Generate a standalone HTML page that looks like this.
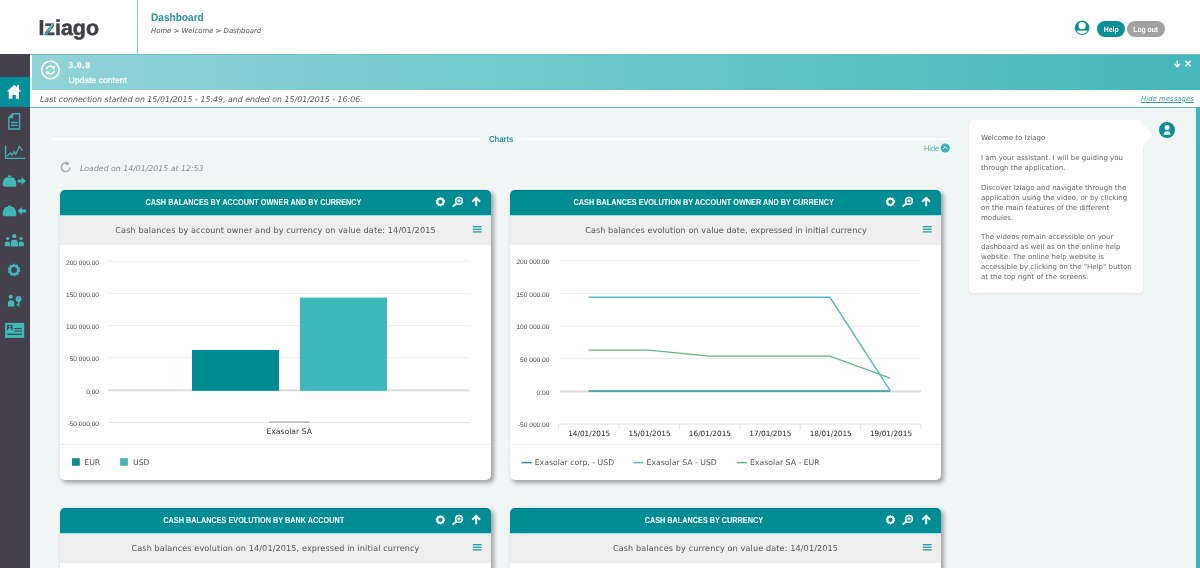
<!DOCTYPE html>
<html lang="en">
<head>
<meta charset="utf-8">
<title>Iziago - Dashboard</title>
<style>
*{box-sizing:border-box;margin:0;padding:0}
html,body{width:1200px;height:568px;overflow:hidden;background:#f0f5f6}
body{position:relative;text-rendering:geometricPrecision;font-family:"DejaVu Sans","Liberation Sans",sans-serif;font-size:7.5px;color:#555;-webkit-font-smoothing:antialiased}
.abs{position:absolute}
.t{position:absolute;white-space:nowrap;line-height:1}
.cond{font-family:"Liberation Sans",sans-serif;font-weight:bold;transform-origin:0 50%}
/* header */
#header{position:absolute;left:0;top:0;width:1200px;height:54px;background:#fff}
#hsep{position:absolute;left:137px;top:0;width:1px;height:54px;background:#9cc6ca}
#hline{position:absolute;left:30px;top:53.6px;width:1170px;height:1px;background:#6fbfc4;z-index:3}
/* sidebar */
#side{position:absolute;left:0;top:54px;width:30px;height:514px;background:#45414c}
#side .act{position:absolute;left:0;top:23px;width:30px;height:30px;background:#00909a}
/* banner */
#gap{position:absolute;left:30px;top:54px;width:2px;height:54px;background:#fff}
#banner{position:absolute;left:32px;top:54px;width:1168px;height:36.3px;background:linear-gradient(90deg,#92d3d7 0%,#6ec8cc 45%,#45b7bb 100%)}
#conn{position:absolute;left:30px;top:90px;width:1170px;height:17px;background:#fff}
#connline{position:absolute;left:30px;top:107px;width:1170px;height:1px;background:#6fc0c5}
#rstripe{position:absolute;left:1196.3px;top:107.4px;width:4px;height:461px;background:#3cb5b8}
/* fieldset */
#fs{position:absolute;left:51px;top:138.3px;width:900px;height:1.3px;background:#f9fcfc}
#fs2{position:absolute;left:51px;top:136.2px;width:900px;height:1px;background:#edf2f3}
/* cards */
.card{position:absolute;width:431px;height:290px;background:#fff;border-radius:5px;box-shadow:2.5px 2.5px 4px rgba(0,0,0,.33)}
.card .hd{position:absolute;left:0;top:0;width:100%;height:26px;background:#028c94;border-radius:5px 5px 0 0;border-bottom:1px solid #9ae4e6;box-shadow:inset 0 1px 0 rgba(0,0,0,.14)}
.card .sub{position:absolute;left:0;top:25.9px;width:100%;height:28.7px;background:#eeeeee}
.card .sepl{position:absolute;left:0;top:254px;width:100%;height:4px;border-top:1px solid #f0f0f0;border-bottom:1px solid #fafafa}
.card .ttl{position:absolute;left:-6.5px;top:-.2px;width:400px;height:25px;text-align:center;color:#fff;font-family:"Liberation Sans",sans-serif;font-weight:bold;font-size:8.6px;line-height:25px;white-space:nowrap}
.card .ttl span{display:inline-block;transform:scaleX(.847);transform-origin:50% 50%}
.card .st{position:absolute;left:0;top:26.3px;width:100%;height:29px;text-align:center;color:#555;font-size:8.1px;letter-spacing:.12px;line-height:29px;white-space:nowrap}
.card svg.ic{position:absolute;left:0;top:0}
svg{overflow:visible}
svg text{font-family:"DejaVu Sans","Liberation Sans",sans-serif;text-rendering:geometricPrecision}
</style>
</head>
<body>
<div id="header"></div>
<div id="hsep"></div>
<div id="hline"></div>
<div id="side"><div class="act"></div>
<svg class="abs" style="left:0;top:0" width="30" height="514" viewBox="0 54 30 514">
  <!-- home -->
  <path d="M14.3 84.7 L21.3 91.5 L19 91.5 L19 98.7 L15.85 98.7 L15.85 95 L12.4 95 L12.4 98.7 L8.7 98.7 L8.7 91.5 L6.9 91.5 Z" fill="#fff"/>
  <rect x="17" y="85.1" width="2" height="5" fill="#fff"/>
  <!-- document -->
  <path d="M12.6 113.8 H19.6 V129 H8.8 V117.6 Z" fill="none" stroke="#3fb0b4" stroke-width="1.4"/>
  <path d="M13.2 113.4 V118.2 H8.4 Z" fill="#3fb0b4"/>
  <path d="M11 122.5 H17.6 M11 125.4 H17.6" stroke="#3fb0b4" stroke-width="1.3" fill="none"/>
  <!-- chart -->
  <path d="M5.6 145.6 V158.3 H25.2" fill="none" stroke="#3fb0b4" stroke-width="1.3"/>
  <path d="M6.5 156.6 L10.6 152.9 L12.1 155 L14.3 151.8 L15.8 154.5 L19.5 146.2 L22.7 150.8" fill="none" stroke="#3fb0b4" stroke-width="1.3"/>
  <!-- purse out -->
  <g fill="#3fb8b8">
    <path d="M5.8 177.5 H13.2 Q14.8 177.9 15.8 181.6 Q17 186 15.6 186.5 Q15 186.8 13.6 186.8 H5.4 Q2.2 186.8 2.7 184 Q3.4 178.6 5.8 177.5 Z"/>
    <rect x="7.8" y="175.6" width="3.6" height="1.6" rx=".6"/>
    <path d="M17.6 179.4 H21.6 V177 L26 181 L21.6 185 V182.6 H17.6 Z"/>
    <path d="M5.8 206.9 H13.2 Q14.8 207.3 15.8 211 Q17 215.4 15.6 215.9 Q15 216.2 13.6 216.2 H5.4 Q2.2 216.2 2.7 213.4 Q3.4 208 5.8 206.9 Z"/>
    <rect x="7.8" y="205.4" width="3.6" height="1.6" rx=".6"/>
    <path d="M26.2 209.4 H22 V207 L17.4 211 L22 215 V212.6 H26.2 Z"/>
    <!-- people -->
    <circle cx="14.3" cy="236.2" r="2.1"/>
    <path d="M10.7 246.6 V243 Q10.7 239.8 14.3 239.8 Q17.9 239.8 17.9 243 V246.6 Z"/>
    <circle cx="7.6" cy="238.5" r="1.6"/>
    <path d="M4.8 246.2 V243.8 Q4.8 241.4 7.6 241.4 Q10 241.4 10 243.8 V246.2 Z"/>
    <circle cx="21.1" cy="238.5" r="1.6"/>
    <path d="M18.6 246.2 V243.8 Q18.6 241.4 21.1 241.4 Q23.9 241.4 23.9 243.8 V246.2 Z"/>
    <!-- person key -->
    <circle cx="10.7" cy="296.8" r="2"/>
    <path d="M7.9 306.4 V303 Q7.9 300.2 11 300.2 Q14.3 300.2 14.3 303 V306.4 Z"/>
    <circle cx="18.6" cy="298.9" r="2.9"/>
    <rect x="17.9" y="300" width="1.5" height="6.6"/>
    <rect x="16.6" y="304" width="1.6" height="1.2"/>
    <!-- id card -->
    <rect x="5.1" y="322.9" width="19.1" height="15"/>
  </g>
  <circle cx="18.8" cy="298" r=".6" fill="#45414c"/>
  <!-- gear -->
  <circle cx="14" cy="270" r="4.2" fill="none" stroke="#3fb8b8" stroke-width="2.6"/>
  <circle cx="14" cy="270" r="5.7" fill="none" stroke="#3fb8b8" stroke-width="1.2" stroke-dasharray="1.8 1.78"/>
  <g fill="#3a4a55">
    <rect x="7.1" y="324.8" width="5.6" height="5.3"/>
    <rect x="14.3" y="328" width="7.6" height="1.1"/>
    <rect x="14.3" y="330.5" width="7.6" height="1.1"/>
    <rect x="7.4" y="333.7" width="14.5" height="1.2"/>
  </g>
  <circle cx="9.9" cy="326.5" r="1.1" fill="#3fbdb8"/>
  <path d="M8 330.1 Q8 328 9.9 328 Q11.8 328 11.8 330.1 Z" fill="#3fbdb8"/>
</svg>
</div>
<div id="gap"></div>
<div id="banner"></div>
<div id="conn"></div>
<div id="connline"></div>
<div id="rstripe"></div>
<div id="fs2"></div><div id="fs"></div>

<!-- LOGO -->
<svg class="abs" style="left:0;top:0" width="137" height="54" viewBox="0 0 137 54">
  <text x="38.4" y="34.8" font-family="Liberation Sans, sans-serif" font-weight="bold" font-size="21.4" fill="#414047" stroke="#414047" stroke-width=".5" style="font-family:'Liberation Sans',sans-serif" textLength="60.6" lengthAdjust="spacingAndGlyphs">Iziago</text>
  <defs><linearGradient id="zg" x1="0" y1="1" x2="0" y2="0"><stop offset="0" stop-color="#1f9c9e"/><stop offset="1" stop-color="#6fd0cb"/></linearGradient></defs>
  <path d="M43.6 35 L47.4 35 L53.8 23.8 L51.8 23.8 Z" fill="url(#zg)"/>
</svg>
<!-- HEADER TEXT -->
<div class="t cond" id="ptitle" style="left:151px;top:12.8px;font-size:11px;color:#2990a2;transform:scaleX(.918);transform-origin:0 50%">Dashboard</div>
<div class="t" id="crumb" style="left:151px;top:28.1px;font-size:6.9px;font-style:italic;color:#4d4d4d">Home &gt; Welcome &gt; Dashboard</div>
<svg class="abs" style="left:1074px;top:20px" width="16" height="16" viewBox="0 0 16 16">
  <defs><clipPath id="uc"><circle cx="8.1" cy="7.8" r="6.2"/></clipPath></defs>
  <circle cx="8.1" cy="7.8" r="7.3" fill="#0b8e96"/>
  <circle cx="8.1" cy="5.7" r="3.6" fill="#fff"/>
  <g clip-path="url(#uc)"><rect x="0" y="10.6" width="16" height="6" fill="#fff"/></g>
</svg>
<div class="abs btn" style="left:1097px;top:21.3px;width:28.4px;height:15.6px;background:#0a8f97;border-radius:8px"></div>
<div class="t cond" style="left:1097px;top:22px;width:28.4px;height:15.6px;line-height:15.6px;text-align:center;font-size:7.8px;color:#fff;transform:scaleX(.87);transform-origin:50% 50%">Help</div>
<div class="abs btn" style="left:1127.2px;top:21.3px;width:37.4px;height:15.6px;background:#a2a2a2;border-radius:8px"></div>
<div class="t cond" style="left:1127.2px;top:22px;width:37.4px;height:15.6px;line-height:15.6px;text-align:center;font-size:7.8px;color:#fff;transform:scaleX(.87);transform-origin:50% 50%">Log out</div>

<!-- BANNER -->
<svg class="abs" style="left:40px;top:60px" width="22" height="22" viewBox="0 0 22 22">
  <circle cx="10.4" cy="10" r="8.7" fill="none" stroke="#fff" stroke-width="1.5"/>
  <path d="M6.5 9.4 A4 4 0 0 1 13.4 7.4" fill="none" stroke="#fff" stroke-width="1.5"/>
  <path d="M14.3 10.6 A4 4 0 0 1 7.4 12.6" fill="none" stroke="#fff" stroke-width="1.5"/>
  <path d="M14.9 5.2 L14.6 8.9 L11.2 8.2 Z" fill="#fff"/>
  <path d="M5.9 14.8 L6.2 11.1 L9.6 11.8 Z" fill="#fff"/>
</svg>
<div class="t" style="left:68.6px;top:61.4px;font-family:'Liberation Serif',serif;font-weight:bold;font-size:9.2px;color:#f4fbfb;letter-spacing:.75px;-webkit-text-stroke:.25px #f4fbfb">3.0.8</div>
<div class="t" style="left:68.6px;top:76.2px;font-family:'Liberation Sans',sans-serif;font-size:8.6px;color:#f4fbfb;-webkit-text-stroke:.3px #f4fbfb">Update content</div>
<svg class="abs" style="left:1172px;top:58px" width="22" height="12" viewBox="0 0 22 12">
  <path d="M5.2 2.6 V8.4 M2.4 5.8 L5.2 8.8 L8 5.8" fill="none" stroke="#fff" stroke-width="1.3"/>
  <path d="M13.3 2.7 L18.7 8.3 M18.7 2.7 L13.3 8.3" fill="none" stroke="#fff" stroke-width="1.3"/>
</svg>
<div class="t" id="lastc" style="left:40px;top:96.3px;font-size:7.85px;font-style:italic;color:#555">Last connection started on 15/01/2015 - 15:49, and ended on 15/01/2015 - 16:06.</div>
<div class="t" id="hidem" style="left:1141px;top:95.7px;font-size:6.95px;font-style:italic;color:#35a0a6;text-decoration:underline;text-decoration-thickness:.6px;text-underline-offset:.8px">Hide messages</div>

<!-- CHARTS LEGEND -->
<div class="abs" style="left:479.5px;top:136px;width:41px;height:6px;background:#f0f5f6"></div>
<div class="t cond" id="charts" style="left:488.6px;top:134.8px;font-size:8.7px;color:#3197a1;font-weight:bold;transform:scaleX(.88);transform-origin:0 50%">Charts</div>
<div class="t" id="hide" style="left:923.6px;top:145.1px;font-family:'Liberation Sans',sans-serif;font-size:7.9px;color:#48aab3;transform:scaleX(.93);transform-origin:0 50%">Hide</div>
<svg class="abs" style="left:940px;top:143px" width="10" height="10" viewBox="0 0 10 10">
  <circle cx="5.2" cy="5" r="4.6" fill="#3fb0b5"/>
  <path d="M3.2 5.8 L5.2 3.8 L7.2 5.8" fill="none" stroke="#fff" stroke-width="1"/>
</svg>
<svg class="abs" style="left:59px;top:159.8px" width="14" height="14" viewBox="0 0 14 14">
  <path d="M9.6 4.2 A4.3 4.3 0 1 0 10.9 7.4" fill="none" stroke="#adadad" stroke-width="1.5"/>
  <path d="M6.4 1.2 L10.8 3.2 L7.2 5.8 Z" fill="#adadad"/>
</svg>
<div class="t" id="loaded" style="left:80px;top:164.6px;font-size:7.8px;font-style:italic;color:#8c8c8c">Loaded on 14/01/2015 at 12:53</div>
<!-- CARDS -->
<div class="card" id="c1" style="left:60px;top:190px">
  <div class="hd"></div><div class="sub"></div><div class="sepl"></div>
  <div class="ttl"><span>CASH BALANCES BY ACCOUNT OWNER AND BY CURRENCY</span></div>
  <div class="st">Cash balances by account owner and by currency on value date: 14/01/2015</div>
  <svg class="ic" width="431" height="55" viewBox="0 0 431 55">
    <g fill="none" stroke="#fff">
      <circle cx="380.4" cy="11.8" r="3.1" stroke-width="1.9"/>
      <circle cx="380.4" cy="11.8" r="4.1" stroke-width="1.2" stroke-dasharray="1.3 1.276"/>
      <circle cx="399" cy="10.9" r="3.3" stroke-width="1.5"/>
      <path d="M396.6 13.4 L392.6 16.6" stroke-width="1.9"/>
      <path d="M397.3 10.9 H400.7 M399 9.2 V12.6" stroke-width="1.3"/>
      <path d="M416.2 16.3 V8.4 M412.3 11.7 L416.2 7.8 L420.1 11.7" stroke-width="2"/>
    </g>
    <g fill="#2f9ea2">
      <rect x="412.8" y="36" width="8.8" height="1.35"/>
      <rect x="412.8" y="38.6" width="8.8" height="1.35"/>
      <rect x="412.8" y="41.2" width="8.8" height="1.35"/>
    </g>
  </svg>
  <svg class="abs" style="left:0;top:0" width="431" height="290" viewBox="0 0 431 290">
    <g stroke="#ededed" stroke-width="1">
      <line x1="48" x2="409.5" y1="71.2" y2="71.2"/>
      <line x1="48" x2="409.5" y1="103.4" y2="103.4"/>
      <line x1="48" x2="409.5" y1="135.6" y2="135.6"/>
      <line x1="48" x2="409.5" y1="167.8" y2="167.8"/>
      <line x1="48" x2="409.5" y1="232.4" y2="232.4" stroke="#e2e2e2"/>
    </g>
    <line x1="48" x2="409.5" y1="200.2" y2="200.2" stroke="#dcdcdc" stroke-width="2"/>
    <rect x="132" y="160" width="87" height="40.8" fill="#008b92"/>
    <rect x="240" y="107.6" width="87" height="93.2" fill="#3fb8bc"/>
    <line x1="209" x2="249.3" y1="232" y2="232" stroke="#999" stroke-width="1.2"/>
    <text x="39" y="74.5" text-anchor="end" font-size="6.6" fill="#4a4a4a" style="font-family:\'Liberation Sans\',sans-serif">200 000.00</text>
    <text x="39" y="106.8" text-anchor="end" font-size="6.6" fill="#4a4a4a" style="font-family:\'Liberation Sans\',sans-serif">150 000.00</text>
    <text x="39" y="139.1" text-anchor="end" font-size="6.6" fill="#4a4a4a" style="font-family:\'Liberation Sans\',sans-serif">100 000.00</text>
    <text x="39" y="171.4" text-anchor="end" font-size="6.6" fill="#4a4a4a" style="font-family:\'Liberation Sans\',sans-serif">50 000.00</text>
    <text x="39" y="203.7" text-anchor="end" font-size="6.6" fill="#4a4a4a" style="font-family:\'Liberation Sans\',sans-serif">0.00</text>
    <text x="39" y="236.0" text-anchor="end" font-size="6.6" fill="#4a4a4a" style="font-family:\'Liberation Sans\',sans-serif">-50 000.00</text>
    <text x="229.2" y="244.3" text-anchor="middle" font-size="7.7" fill="#333">Exasolar SA</text>
    <rect x="12" y="268.2" width="7.8" height="7.6" fill="#0f8c93"/>
    <text x="24.3" y="275" font-size="7.75" fill="#555">EUR</text>
    <rect x="60.1" y="268.2" width="7.8" height="7.6" fill="#45b6ba"/>
    <text x="73" y="275" font-size="7.75" fill="#555">USD</text>
  </svg>
</div>
<div class="card" id="c2" style="left:510px;top:190px">
  <div class="hd"></div><div class="sub"></div><div class="sepl"></div>
  <div class="ttl"><span>CASH BALANCES EVOLUTION BY ACCOUNT OWNER AND BY CURRENCY</span></div>
  <div class="st" style="letter-spacing:.08px;left:.5px">Cash balances evolution on value date, expressed in initial currency</div>
  <svg class="ic" width="431" height="55" viewBox="0 0 431 55">
    <g fill="none" stroke="#fff">
      <circle cx="380.4" cy="11.8" r="3.1" stroke-width="1.9"/>
      <circle cx="380.4" cy="11.8" r="4.1" stroke-width="1.2" stroke-dasharray="1.3 1.276"/>
      <circle cx="399" cy="10.9" r="3.3" stroke-width="1.5"/>
      <path d="M396.6 13.4 L392.6 16.6" stroke-width="1.9"/>
      <path d="M397.3 10.9 H400.7 M399 9.2 V12.6" stroke-width="1.3"/>
      <path d="M416.2 16.3 V8.4 M412.3 11.7 L416.2 7.8 L420.1 11.7" stroke-width="2"/>
    </g>
    <g fill="#2f9ea2">
      <rect x="412.8" y="36" width="8.8" height="1.35"/>
      <rect x="412.8" y="38.6" width="8.8" height="1.35"/>
      <rect x="412.8" y="41.2" width="8.8" height="1.35"/>
    </g>
  </svg>
  <svg class="abs" style="left:0;top:0" width="431" height="290" viewBox="0 0 431 290">
    <g stroke="#ededed" stroke-width="1">
      <line x1="50" x2="411" y1="70.8" y2="70.8"/>
      <line x1="50" x2="411" y1="103.4" y2="103.4"/>
      <line x1="50" x2="411" y1="136" y2="136"/>
      <line x1="50" x2="411" y1="168.4" y2="168.4"/>
      <line x1="48.7" x2="411" y1="234.1" y2="234.1" stroke="#e2e2e2"/>
    </g>
    <line x1="50" x2="411" y1="201.5" y2="201.5" stroke="#dcdcdc" stroke-width="1.8"/>
    <line x1="48.7" x2="48.7" y1="234" y2="239.2" stroke="#e2e2e2" stroke-width="1"/>
    <line x1="109.1" x2="109.1" y1="234" y2="239.2" stroke="#e2e2e2" stroke-width="1"/>
    <line x1="169.4" x2="169.4" y1="234" y2="239.2" stroke="#e2e2e2" stroke-width="1"/>
    <line x1="229.8" x2="229.8" y1="234" y2="239.2" stroke="#e2e2e2" stroke-width="1"/>
    <line x1="290.2" x2="290.2" y1="234" y2="239.2" stroke="#e2e2e2" stroke-width="1"/>
    <line x1="350.5" x2="350.5" y1="234" y2="239.2" stroke="#e2e2e2" stroke-width="1"/>
    <line x1="410.9" x2="410.9" y1="234" y2="239.2" stroke="#e2e2e2" stroke-width="1"/>
    <text x="79.2" y="246" text-anchor="middle" font-size="7.3" fill="#2e2e2e" stroke="#2e2e2e" stroke-width=".04">14/01/2015</text>
    <text x="139.6" y="246" text-anchor="middle" font-size="7.3" fill="#2e2e2e" stroke="#2e2e2e" stroke-width=".04">15/01/2015</text>
    <text x="199.9" y="246" text-anchor="middle" font-size="7.3" fill="#2e2e2e" stroke="#2e2e2e" stroke-width=".04">16/01/2015</text>
    <text x="260.3" y="246" text-anchor="middle" font-size="7.3" fill="#2e2e2e" stroke="#2e2e2e" stroke-width=".04">17/01/2015</text>
    <text x="320.7" y="246" text-anchor="middle" font-size="7.3" fill="#2e2e2e" stroke="#2e2e2e" stroke-width=".04">18/01/2015</text>
    <text x="381.0" y="246" text-anchor="middle" font-size="7.3" fill="#2e2e2e" stroke="#2e2e2e" stroke-width=".04">19/01/2015</text>
    <polyline fill="none" stroke="#5fba82" stroke-width="1.3" points="78.4,160.2 138.8,160.2 199.1,166.1 319.9,166.1 380.2,188.2"/>
    <polyline fill="none" stroke="#58bcc0" stroke-width="1.45" points="78.4,107.3 319.9,107.3 380.2,200.6"/>
    <polyline fill="none" stroke="#2a949b" stroke-width="1.5" points="78.4,200.9 380.2,200.9"/>
    <text x="39.4" y="74.2" text-anchor="end" font-size="6.6" fill="#4a4a4a" style="font-family:\'Liberation Sans\',sans-serif">200 000.00</text>
    <text x="39.4" y="106.8" text-anchor="end" font-size="6.6" fill="#4a4a4a" style="font-family:\'Liberation Sans\',sans-serif">150 000.00</text>
    <text x="39.4" y="139.4" text-anchor="end" font-size="6.6" fill="#4a4a4a" style="font-family:\'Liberation Sans\',sans-serif">100 000.00</text>
    <text x="39.4" y="172.0" text-anchor="end" font-size="6.6" fill="#4a4a4a" style="font-family:\'Liberation Sans\',sans-serif">50 000.00</text>
    <text x="39.4" y="204.7" text-anchor="end" font-size="6.6" fill="#4a4a4a" style="font-family:\'Liberation Sans\',sans-serif">0.00</text>
    <text x="39.4" y="237.4" text-anchor="end" font-size="6.6" fill="#4a4a4a" style="font-family:\'Liberation Sans\',sans-serif">-50 000.00</text>
    <g stroke-width="1.5">
      <line x1="11.5" x2="21.7" y1="272.6" y2="272.6" stroke="#2a949b"/>
      <line x1="123.4" x2="133.4" y1="272.6" y2="272.6" stroke="#58bcc0"/>
      <line x1="226.8" x2="237" y1="272.6" y2="272.6" stroke="#5fba82"/>
    </g>
    <text x="24.7" y="275" font-size="7.75" fill="#555">Exasolar corp. - USD</text>
    <text x="136.6" y="275" font-size="7.75" fill="#555">Exasolar SA - USD</text>
    <text x="240" y="275" font-size="7.75" fill="#555">Exasolar SA - EUR</text>
  </svg>
</div>
<div class="card" id="c3" style="left:60px;top:508px">
  <div class="hd"></div><div class="sub"></div>
  <div class="ttl"><span>CASH BALANCES EVOLUTION BY BANK ACCOUNT</span></div>
  <div class="st">Cash balances evolution on 14/01/2015, expressed in initial currency</div>
  <svg class="ic" width="431" height="55" viewBox="0 0 431 55">
    <g fill="none" stroke="#fff">
      <circle cx="380.4" cy="11.8" r="3.1" stroke-width="1.9"/>
      <circle cx="380.4" cy="11.8" r="4.1" stroke-width="1.2" stroke-dasharray="1.3 1.276"/>
      <circle cx="399" cy="10.9" r="3.3" stroke-width="1.5"/>
      <path d="M396.6 13.4 L392.6 16.6" stroke-width="1.9"/>
      <path d="M397.3 10.9 H400.7 M399 9.2 V12.6" stroke-width="1.3"/>
      <path d="M416.2 16.3 V8.4 M412.3 11.7 L416.2 7.8 L420.1 11.7" stroke-width="2"/>
    </g>
    <g fill="#2f9ea2">
      <rect x="412.8" y="36" width="8.8" height="1.35"/>
      <rect x="412.8" y="38.6" width="8.8" height="1.35"/>
      <rect x="412.8" y="41.2" width="8.8" height="1.35"/>
    </g>
  </svg>
</div>
<div class="card" id="c4" style="left:510px;top:508px">
  <div class="hd"></div><div class="sub"></div>
  <div class="ttl"><span>CASH BALANCES BY CURRENCY</span></div>
  <div class="st">Cash balances by currency on value date: 14/01/2015</div>
  <svg class="ic" width="431" height="55" viewBox="0 0 431 55">
    <g fill="none" stroke="#fff">
      <circle cx="380.4" cy="11.8" r="3.1" stroke-width="1.9"/>
      <circle cx="380.4" cy="11.8" r="4.1" stroke-width="1.2" stroke-dasharray="1.3 1.276"/>
      <circle cx="399" cy="10.9" r="3.3" stroke-width="1.5"/>
      <path d="M396.6 13.4 L392.6 16.6" stroke-width="1.9"/>
      <path d="M397.3 10.9 H400.7 M399 9.2 V12.6" stroke-width="1.3"/>
      <path d="M416.2 16.3 V8.4 M412.3 11.7 L416.2 7.8 L420.1 11.7" stroke-width="2"/>
    </g>
    <g fill="#2f9ea2">
      <rect x="412.8" y="36" width="8.8" height="1.35"/>
      <rect x="412.8" y="38.6" width="8.8" height="1.35"/>
      <rect x="412.8" y="41.2" width="8.8" height="1.35"/>
    </g>
  </svg>
</div>
<!-- ASSISTANT -->
<div class="abs" id="bubble" style="left:969px;top:120.2px;width:174px;height:173.2px;background:#fff;border-radius:5px;box-shadow:0 1px 3px rgba(0,0,0,.08)"></div>
<svg class="abs" style="left:1138px;top:120px" width="16" height="30" viewBox="0 0 16 30">
  <path d="M0 .2 L1.9 .2 L14 14.8 L5 26.8 L0 26.8 Z" fill="#fff"/>
</svg>
<div class="abs" id="btext" style="left:981px;top:133.1px;width:160px;font-size:7.02px;line-height:9.94px;color:#636363;white-space:nowrap"><span style="position:relative;top:-.6px">Welcome to Iziago</span><br><br>I am your assistant. I will be guiding you<br>through the application.<br><br>Discover Iziago and navigate through the<br>application using the video, or by clicking<br>on the main features of the different<br>modules.<br><br>The videos remain accessible on your<br>dashboard as well as on the online help<br>website. The online help website is<br>accessible by clicking on the "Help" button<br>at the top right of the screens.</div>
<svg class="abs" style="left:1159.1px;top:122.2px" width="16" height="16" viewBox="0 0 16 16">
  <defs><clipPath id="ac"><circle cx="8" cy="8" r="8"/></clipPath></defs>
  <circle cx="8" cy="8" r="8" fill="#0b8e96"/>
  <circle cx="8.1" cy="5.5" r="2.5" fill="#fff"/>
  <path d="M4.6 12.7 C4.6 10.2 6.1 9.2 8.1 9.2 C10.1 9.2 11.6 10.2 11.6 12.7 Z" fill="#fff"/>
</svg>
</body>
</html>
